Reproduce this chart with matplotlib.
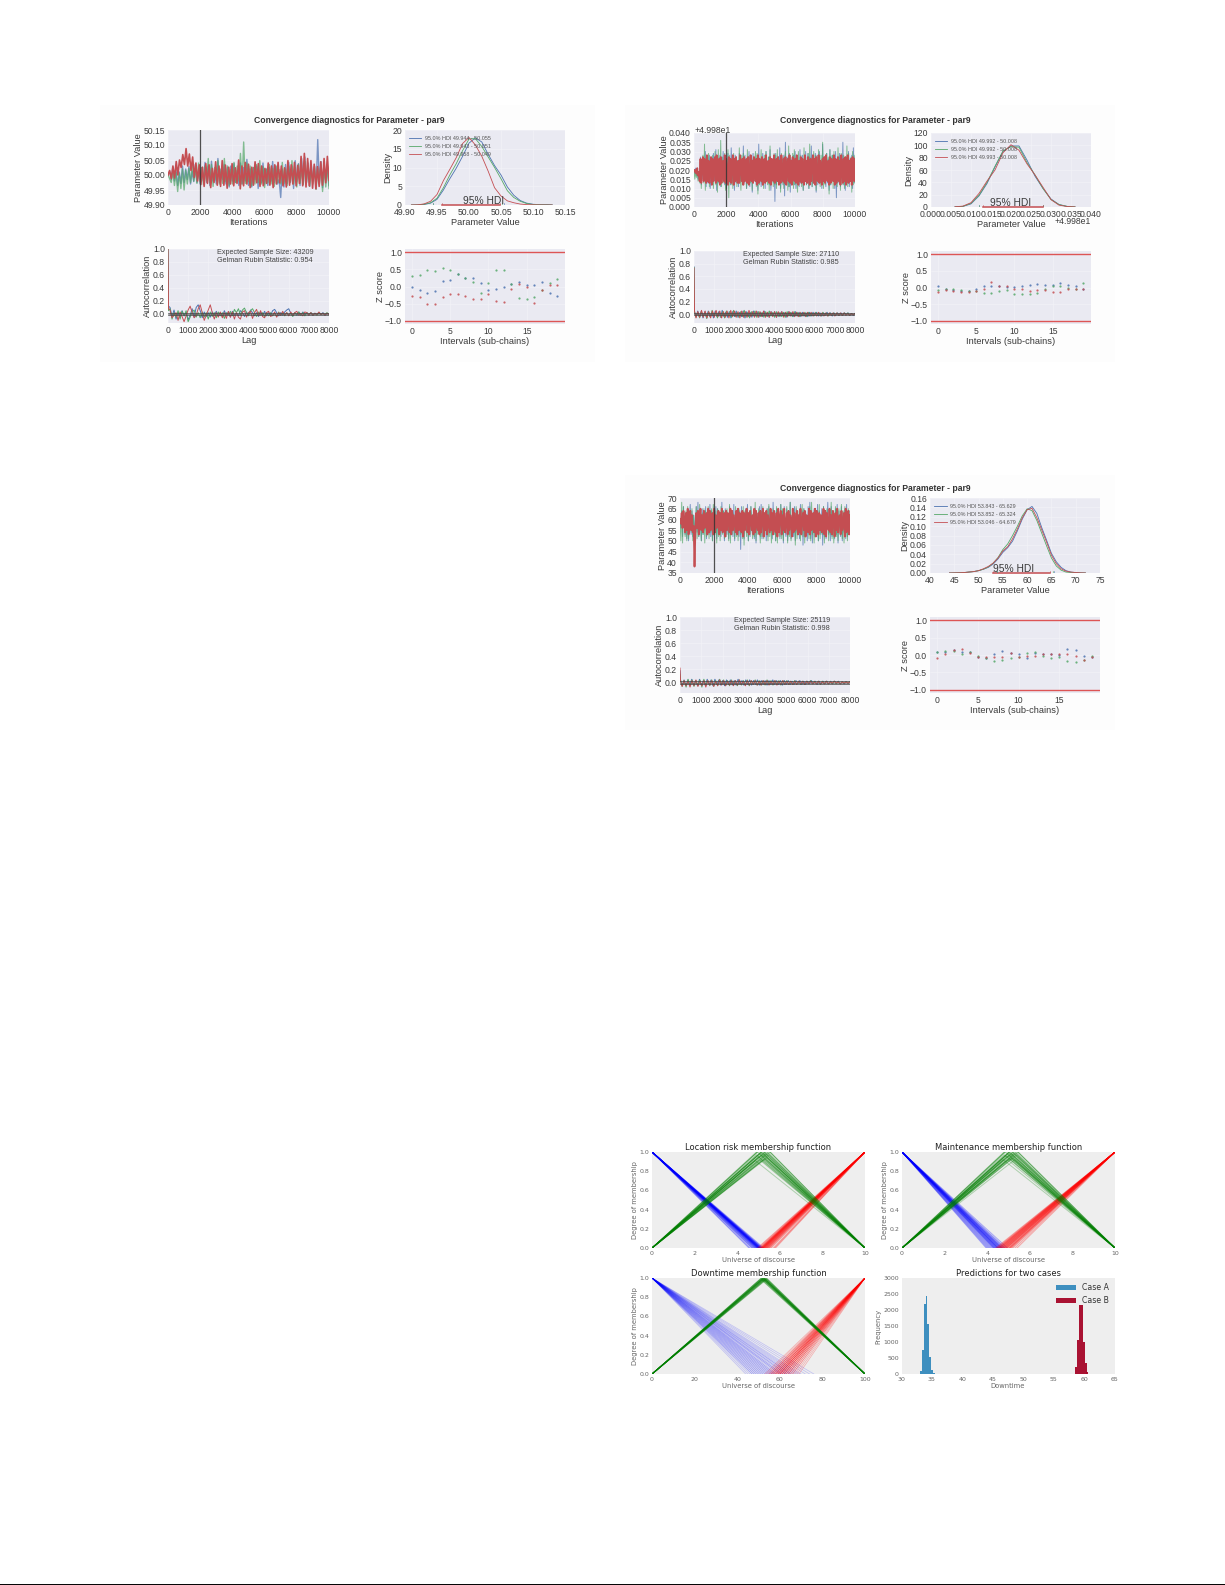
import numpy as np
import matplotlib
matplotlib.use("Agg")
import matplotlib.pyplot as plt
from matplotlib.lines import Line2D
from matplotlib.patches import Rectangle

W, H = 1225, 1585
plt.rcParams['font.family'] = ['Liberation Sans', 'DejaVu Sans']

BLUE, GREEN, RED = '#4C72B0', '#55A868', '#C44E52'
TITLE = "Convergence diagnostics for Parameter - par9"

# ---------- panel set 1 ----------
T1_B = [0,12,-15,25,-20,18,-35,10,-28,30,-25,20,-15,28,-30,12,-22,36,-25,15,-30,25,-20,42,-25,30,-35,46,-20,15,-30,55,-25,20,-15,35,-30,25,-40,30,-20,38,-25,15,-35,40,-30,25,-20,52,-35,20,-40,25,-15,30,-45,15,-25,40,-30,20,-35,25,-20,45,-25,30,-30,-15,-75,20,-40,35,-28,42,-25,30,-45,48,-22,38,-35,55,-30,60,-25,40,-38,35,-20,30,-45,118,-30,45,-42,25,-20,30,-35]
T1_G = [0,-12,-25,10,-35,8,-55,5,-45,20,-50,15,-30,22,-25,30,-20,18,-28,40,-22,25,-32,30,-20,55,-25,35,-38,25,-18,48,-30,20,-28,55,-22,30,-35,18,-30,42,-25,30,-20,72,-30,110,-28,40,-22,30,-36,25,-30,35,-25,48,-30,28,-42,20,-25,35,-30,22,-38,30,-25,18,-30,42,-28,20,-35,30,-22,48,-30,25,-40,35,-28,20,-32,45,-25,30,-38,20,-30,28,-48,22,-30,35,-55,20,-40,25,-45]
T1_R = [0,15,-12,30,-10,45,0,50,25,68,35,88,30,70,15,60,-8,40,-20,34,-32,26,-38,38,-28,34,-42,22,-25,44,-34,30,-38,48,-34,33,-44,26,-30,38,-36,24,-28,50,-46,30,-36,42,-30,36,-42,26,-34,44,-26,38,-38,30,-36,22,-28,40,-34,30,-42,34,-30,42,-26,30,-36,24,-40,48,-34,34,-30,42,-36,32,-28,62,-36,72,-40,55,-36,48,-44,36,-46,28,-38,44,-34,55,-26,62,-18]
ACF1_B = [1.0,.12,.10,-.04,.06,-.08,.02,-.06,.05,-.03,.02,-.09,-.02,.08,-.05,.10,.14,.05,-.06,.03,-.04,.02,-.05,.03,-.02,.04,-.03,.02,-.04,.05,-.02,.03,-.05,.04,-.02,.01,-.03,.05,.02,-.04,.03,-.02,.06,.02,-.03,.02,-.04,.03,-.02,.04,-.03,.02,-.02,.05,.07,.02,-.03,.02,-.02,.03,.06,.08,.01,-.03,.02,-.02,.03,-.02,.03,-.01,.02,-.02,.02,-.02,.01,-.01,.02,-.01,.02,-.02,.01,-.01]
ACF1_G = [1.0,.05,.08,-.08,.02,-.05,.05,-.08,.04,-.03,.05,-.12,-.05,.03,.06,-.05,.02,-.06,.03,-.05,.02,-.08,.03,-.04,.02,-.06,.03,-.03,.02,-.07,.02,-.02,.04,-.03,.07,.02,.08,-.02,.06,.09,.02,-.03,.05,.08,.02,-.04,.03,-.02,.02,-.04,.02,-.03,.02,-.03,.01,-.04,.03,-.02,.02,-.03,.02,-.02,.01,-.04,.02,-.01,.03,-.02,.02,-.03,.02,-.01,.02,-.02,.01,-.02,.02,-.01,.01,-.01,.02,-.01]
ACF1_R = [1.0,.08,.06,-.06,-.02,.02,-.10,.03,-.04,-.12,-.03,.06,.12,.02,-.06,-.02,.08,.14,.02,-.10,-.02,.06,.14,.02,-.08,.02,-.05,.03,-.06,.02,-.07,.04,-.05,.03,-.08,.02,-.05,-.08,.03,.05,-.05,.02,.04,-.07,.02,.07,-.03,.05,-.04,-.06,.02,.04,-.04,-.02,.03,-.05,.02,-.02,.04,-.02,.02,-.03,.03,-.02,.02,.04,-.02,.01,-.03,.03,.02,-.02,.02,-.02,.01,-.01,.03,-.01,.01,-.02,.01,-.01]
KDE1_X = [49.91,49.92,49.93,49.94,49.95,49.96,49.97,49.98,49.99,50.00,50.01,50.02,50.03,50.04,50.05,50.06,50.07,50.08,50.09,50.10,50.11,50.12,50.13]
KDE1_B = [0,.03,.15,.5,1.5,4,7,9.8,13,16.5,17.9,16.8,13.5,10.5,8,4.8,2.6,1.2,.5,.2,.1,.15,.03]
KDE1_G = [0,.04,.2,.6,1.8,4.6,8,11,14.5,17.6,17.7,15.6,12.8,10,7,3.8,2,1,.4,.15,.06,.05,0]
KDE1_R = [0,.05,.3,1,2.8,6.5,9.5,12.6,16.4,18,16,13,9,4.6,2.4,1.1,.6,.25,.1,.05,.02,0,0]
HDI1 = [(49.944,50.055),(49.943,50.051),(49.958,50.049)]
Z1_B = [0,-.1,-.2,-.12,.15,.2,.37,.25,.24,.1,-.1,-.08,-.02,.08,.12,.04,.05,.13,-.19,-.27]
Z1_G = [.3,.33,.47,.45,.53,.49,.37,.24,.13,-.19,.09,.47,.48,.08,-.32,-.35,-.31,-.1,.11,.22]
Z1_R = [-.28,-.3,-.51,-.51,-.3,-.22,-.23,-.27,-.35,-.36,-.22,-.41,-.44,-.08,.08,-.02,-.49,-.09,.03,.03]

# ---------- panel set 2 (relative to 49.98, thousandths for the traces) ----------
T2_B = [20,18,21,17,20,15,19,14,27,12,24,15,26,14,30,11,25,13,23,28,10,16,27,12,29,17,14,31,9,26,13,22,28,11,27,15,30,18,12,25,10,21,29,13,26,12,32,19,14,27,9,28,13,24,25,11,29,14,20,26,12,33,13,28,17,10,27,15,30,11,22,26,8,29,14,27,18,12,28,9,34,13,26,11,23,29,13,25,10,30,16,14,27,12,31,9,21,26,13,28,3,29,12,24,27,14,32,10,19,26,12,28,6,35,13,27,17,11,29,8,26,14,23,28,12,30,10,27,15,25,11,31,13,20,28,9,26,14,30,12,24,29,10,27,13,33,11,18,26,14,29,8,28,12,22,30,13,25,10,34,14,27,16,11,29,13,26,9,31,12,23,28,14,27,10,30,5,26,13,21,29,11,28,14,35,12,25,9,27,17,13,30,11,26,14,28,10,32,13,27]
T2_G = [20,15,19,16,21,14,18,13,26,10,22,28,13,34,9,27,17,14,29,11,24,26,13,28,10,20,30,12,27,8,31,16,14,36,11,27,13,23,29,9,26,15,31,5,28,19,12,26,10,29,14,25,27,11,25,13,32,18,9,28,12,29,14,22,26,10,31,12,27,16,13,28,9,26,14,24,30,11,29,7,27,12,21,31,13,26,10,28,14,30,17,12,27,9,33,13,26,23,11,29,12,28,10,31,14,19,26,8,29,13,27,10,25,30,12,26,9,33,11,28,15,13,29,10,31,12,27,14,8,30,22,13,28,11,26,9,32,14,27,12,18,29,10,34,13,26,11,24,30,12,28,9,27,14,31,16,11,28,13,35,10,26,12,21,29,14,27,7,31,12,25,28,10,30,13,26,19,11,32,14,27,9,29,12,23,28,10,26,13,33,11,29,17,14,27,8,30,12,28,13]
T2_R = [20,19,20,18,21,17,19,14,26,13,23,27,14,26,18,13,28,14,25,13,21,27,12,26,14,24,27,13,28,17,14,26,12,27,13,22,25,14,28,13,26,19,12,27,14,26,13,23,28,12,26,14,27,16,13,25,13,28,21,14,26,12,27,14,24,26,13,27,12,18,28,14,25,13,27,22,14,26,12,28,13,26,15,14,27,12,24,26,13,28,14,20,25,13,27,12,26,17,14,28,13,23,26,14,27,12,25,13,28,19,14,26,13,27,12,22,26,14,28,13,25,12,27,16,14,26,13,28,23,12,25,14,27,13,26,20,12,28,14,25,13,27,18,12,26,14,24,28,13,26,12,27,15,14,28,13,25,22,12,26,14,27,13,28,19,14,25,12,27,13,26,24,14,28,12,26,13,17,27,14,25,12,28,21,13,26,14,27,12,23,28,13,25,14,26,12,27,18,14,26]
ACF2_B = [.75,.03,-.04,.05,-.05,.04,-.06,.04,-.05,.05,-.04,.03,-.06,.05,-.04,.04,-.05,.06,-.04,.03,-.05,.04,-.06,.04,-.04,.05,-.05,.03,-.04,.05,-.06,.04,-.04,.03,-.05,.05,-.03,.04,-.05,.03,-.04,.05,-.04,.03,-.05,.04,-.03,.04,-.05,.03,-.04,.04,-.03,.03,-.05,.04,-.03,.03,-.04,.04,-.03,.03,-.04,.03,-.03,.02,-.04,.03,-.03,.03,-.02,.03,-.03,.02,-.03,.02,-.02,.03,-.02,.02,-.03,.02,-.02,.02,-.02,.02,-.02,.02,-.01,.02,-.02,.01,-.02,.01]
ACF2_G = [.74,.04,-.05,.03,-.06,.05,-.04,.03,-.07,.04,-.05,.06,-.03,.04,-.06,.03,-.05,.04,-.06,.05,-.03,.04,-.05,.06,-.04,.03,-.05,.04,-.04,.06,-.05,.03,-.06,.04,-.03,.05,-.05,.04,-.04,.03,-.05,.04,-.04,.05,-.03,.03,-.05,.04,-.04,.03,-.04,.03,-.05,.04,-.03,.03,-.04,.04,-.03,.03,-.04,.02,-.03,.03,-.04,.03,-.03,.02,-.03,.03,-.02,.02,-.03,.03,-.02,.02,-.03,.02,-.02,.02,-.02,.02,-.02,.01,-.02,.02,-.01,.02,-.02,.01,-.01,.01]
ACF2_R = [.73,.05,-.06,.04,-.05,.06,-.05,.05,-.06,.04,-.06,.05,-.05,.06,-.04,.05,-.06,.04,-.05,.05,-.06,.06,-.04,.05,-.05,.04,-.06,.05,-.05,.04,-.05,.06,-.04,.04,-.05,.05,-.05,.04,-.04,.05,-.05,.03,-.05,.04,-.04,.04,-.05,.04,-.03,.04,-.05,.03,-.04,.04,-.03,.04,-.04,.03,-.04,.03,-.03,.03,-.04,.03,-.03,.03,-.03,.02,-.03,.03,-.03,.02,-.03,.02,-.03,.02,-.02,.02,-.03,.02,-.02,.02,-.02,.02,-.02,.01,-.02,.01,-.01,.01]
KDE2_X = [.006,.008,.010,.012,.014,.016,.018,.020,.022,.024,.026,.028,.030,.032,.034,.036]
KDE2_B = [.2,1,5,18,38,65,90,99,99,76,50,30,13,4,1,.2]
KDE2_G = [.2,1,6,19,40,66,91,98,97,72,52,30,12,4,1,.2]
KDE2_R = [.3,1.5,7,22,42,60,88,101,92,70,52,32,12,3,.8,.1]
HDI2 = [(.012,.028),(.012,.028),(.013,.028)]
HDI2_LABELS = ["49.992 - 50.008","49.992 - 50.008","49.993 - 50.008"]
Z2_B = [.03,-.05,-.07,-.1,-.1,-.03,.04,.05,.03,.02,.01,.03,.07,.09,.07,.07,.12,.08,.03,-.03]
Z2_G = [-.08,-.03,-.05,-.07,-.1,-.1,-.15,-.15,-.1,-.07,-.2,-.18,-.19,-.15,-.03,.03,.04,0,-.03,.14]
Z2_R = [-.13,-.07,-.1,-.13,-.12,-.1,-.03,.17,.04,.03,-.05,-.05,-.1,-.08,-.06,-.13,-.13,-.03,-.05,-.04]

# ---------- panel set 3 ----------
T3_B = [60,56,64,52,66,58,53,63,51,65,50,61,67,53,64,52,62,57,51,66,54,68,52,63,59,50,65,53,64,55,66,51,60,63,53,67,52,64,50,62,56,54,66,51,65,53,63,58,52,68,54,64,50,65,61,53,62,51,66,53,57,64,52,67,50,63,54,65,59,52,64,46,66,53,62,51,60,65,54,67,50,63,52,66,56,53,64,51,65,49,63,58,54,66,52,67,51,64,53,61,62,50,65,52,66,54,63,57,51,68,53,64,50,65,52,60,63,51,67,53,64,49,66,55,52,65,50,63,53,68,51,59,64,52,66,50,65,54,62,56,51,67,53,64,48,65,52,63,58,50,66,53,68,51,64,49,61,65,52,63,54,67,50,64,57,53,65,48,66,52,63,51,60,68,53,64,50,66,52,62,55,51,65,53,67,49,64,58,52,66,50,63,54,65,51,67,52,62,53,64]
T3_G = [60,50,68,49,66,57,52,64,50,66,51,60,64,54,65,50,62,56,53,66,51,64,52,67,59,50,63,53,65,49,64,52,61,66,51,62,54,65,50,67,58,53,64,49,65,52,63,50,66,55,53,64,51,62,52,65,60,50,67,49,64,53,63,57,51,66,52,64,50,65,61,53,62,51,66,48,64,56,52,65,50,63,53,66,59,51,64,52,68,50,63,53,65,58,49,64,52,66,51,63,60,53,65,50,67,52,64,49,56,65,53,62,50,66,49,64,61,52,67,51,65,50,63,54,57,66,49,64,52,68,50,62,53,65,59,48,66,51,64,53,63,50,60,67,52,65,49,64,54,62,57,51,66,50,68,53,63,49,65,58,52,64,50,67,51,62,55,53,66,49,64,52,65,60,50,63,53,68,51,64,49,57,66,52,63,50,65,54,61,67,51,64,49,66,52,63,50,65,53,64]
T3_R = [60,58,63,56,64,60,54,63,55,65,53,59,64,55,62,54,57,38,54,63,56,64,53,60,65,55,62,54,64,56,58,63,53,65,54,64,55,61,63,53,65,54,62,56,59,64,53,63,55,65,54,57,63,52,64,55,63,60,54,65,53,64,55,62,58,54,64,53,65,55,63,56,54,64,52,63,55,61,65,54,63,53,64,59,55,62,53,65,54,64,57,55,63,53,64,54,60,65,52,63,55,64,53,62,58,54,65,55,63,53,64,56,54,63,52,65,54,61,64,53,62,55,65,54,58,63,53,64,55,62,60,52,65,54,63,55,57,64,53,62,54,65,53,59,63,55,64,52,62,61,54,65,53,64,55,56,63,54,65,52,64,58,53,63,55,62,54,60,65,53,64,52,63,57,55,65,54,62,53,64,59,52,63,55,65,54,61,62,53,64,55,58,63,52,65,54,60,64,53,62]
ACF3_B = [.18,.03,-.04,.04,-.05,.04,-.03,.05,-.04,.03,-.05,.05,-.04,.03,-.04,.05,-.03,.04,-.05,.05,-.03,.04,-.04,.03,-.05,.04,-.03,.04,-.04,.03,-.04,.05,-.03,.03,-.04,.04,-.03,.04,-.04,.03,-.03,.04,-.04,.03,-.03,.03,-.04,.03,-.03,.04,-.03,.03,-.03,.03,-.04,.03,-.03,.03,-.03,.02,-.03,.03,-.02,.03,-.03,.02,-.03,.02,-.02,.03,-.02,.02,-.03,.02,-.02,.02,-.02,.02,-.02,.02,-.02,.02,-.01,.02,-.02,.01,-.02,.01,-.01,.01]
ACF3_G = [.12,.04,-.06,.03,-.07,.05,-.05,.04,-.06,.03,-.05,.04,-.07,.05,-.04,.03,-.05,.04,-.06,.03,-.05,.05,-.03,.04,-.05,.03,-.05,.04,-.03,.03,-.05,.04,-.04,.03,-.04,.04,-.05,.03,-.03,.04,-.04,.03,-.04,.03,-.04,.04,-.03,.03,-.04,.03,-.03,.03,-.04,.03,-.03,.03,-.03,.02,-.03,.03,-.03,.02,-.03,.02,-.03,.02,-.02,.03,-.02,.02,-.02,.02,-.03,.02,-.02,.02,-.02,.01,-.02,.02,-.02,.01,-.02,.01,-.01,.01,-.01,.01]
ACF3_R = [.22,.02,-.06,.03,-.05,.02,-.07,.03,-.05,.04,-.06,.02,-.05,.03,-.07,.03,-.04,.03,-.06,.02,-.05,.04,-.04,.03,-.05,.02,-.04,.03,-.05,.03,-.04,.04,-.03,.02,-.05,.03,-.04,.03,-.03,.03,-.04,.02,-.04,.03,-.03,.03,-.04,.02,-.03,.03,-.04,.02,-.03,.03,-.03,.02,-.03,.02,-.03,.02,-.03,.02,-.02,.02,-.03,.02,-.02,.02,-.02,.01,-.02,.02,-.02,.01,-.02,.02,-.02,.01,-.01,.02,-.01,.01,-.02,.01,-.01,.01,-.01,.01]
KDE3_X = [44,45,46,47,48,49,50,51,52,53,54,55,56,57,58,59,60,61,62,63,64,65,66,67,68,69,70,71,72]
KDE3_B = [0,.0002,.0005,.001,.002,.003,.005,.008,.012,.019,.03,.044,.054,.068,.09,.115,.135,.142,.127,.097,.07,.042,.024,.012,.005,.002,.001,.0003,0]
KDE3_G = [0,.0002,.0005,.001,.002,.003,.005,.008,.013,.021,.033,.05,.062,.08,.1,.122,.137,.133,.112,.085,.058,.032,.015,.006,.002,.001,.0003,0,0]
KDE3_R = [0,.0002,.0004,.001,.002,.003,.005,.009,.014,.021,.032,.047,.056,.073,.094,.118,.135,.138,.118,.092,.066,.038,.02,.009,.004,.002,.001,.0003,0]
HDI3 = [(53.843,65.629),(53.852,65.324),(53.046,64.679)]
Z3_B = [.1,.1,.15,.1,.08,-.05,-.1,.03,.12,.05,.02,-.1,.05,.02,.03,0,.18,.14,-.03,-.05]
Z3_G = [.1,.12,.12,.03,.1,-.03,-.08,-.17,-.13,-.1,-.07,.07,.08,-.02,-.1,-.05,-.17,-.2,-.13,-.03]
Z3_R = [-.1,.02,.14,.16,.06,-.07,-.05,-.05,-.07,.05,-.07,-.03,-.03,.03,.02,.02,.02,-.02,-.15,-.07]

# ---------- fuzzy membership panels ----------
A_BLUE_END = [4.55,4.6,4.68,4.72,4.75,4.8,4.82,4.85,4.88,4.9,4.92,4.94,4.95,4.97,4.98,5.0,5.0,5.01,5.02,5.03,5.04,5.05,5.06,5.07,5.08,5.1,5.1,5.12,5.14,5.15,5.17,5.2,5.25]
A_RED_START = [4.95,5.0,5.05,5.08,5.1,5.12,5.14,5.15,5.17,5.18,5.2,5.2,5.22,5.24,5.25,5.27,5.28,5.3,5.32,5.34,5.36,5.38,5.4,5.42,5.45,5.48,5.5,5.55,5.6,5.7,5.75,5.8]
A_GREEN_PEAK = [4.85,4.9,4.95,5.0,5.0,5.05,5.05,5.1,5.1,5.1,5.15,5.15,5.15,5.2,5.2,5.2,5.2,5.25,5.25,5.25,5.3,5.3,5.3,5.35,5.35,5.4,5.4,5.45,5.5,5.55]
A_GREEN_TOP = [.91,.97,1.0,.95,1.02,.98,.92,.99,1.03,.96,.91,1.0,.97,1.05,.93,.99,1.01,.92,.98,1.03,.96,1.0,.93,.98,1.04,.94,.99,1.02,.97,1.0]
B_BLUE_END = [3.95,4.0,4.05,4.1,4.15,4.2,4.25,4.3,4.3,4.35,4.35,4.4,4.4,4.45,4.45,4.5,4.5,4.5,4.55,4.55,4.6,4.6,4.65,4.65,4.7,4.7,4.75,4.8,4.85,4.95]
B_RED_START = [4.4,4.45,4.5,4.52,4.55,4.58,4.6,4.62,4.65,4.68,4.7,4.72,4.75,4.78,4.8,4.82,4.85,4.88,4.9,4.92,4.95,5.0,5.02,5.05,5.08,5.1,5.15,5.2,5.3,5.4]
B_GREEN_PEAK = [4.75,4.8,4.85,4.9,4.9,4.95,4.95,5.0,5.0,5.0,5.05,5.05,5.05,5.1,5.1,5.1,5.1,5.15,5.15,5.15,5.2,5.2,5.2,5.25,5.25,5.3,5.3,5.35,5.4,5.45]
B_GREEN_TOP = [.92,.97,1.0,.96,1.02,.98,.92,.99,1.04,.96,.93,1.0,.97,1.05,.94,.99,1.01,.93,.98,1.03,.96,1.0,.94,.98,1.04,.92,.99,1.02,.97,1.0]
C_BLUE_END = [44,45,46,47,47,48,48,49,49,50,50,51,51,52,52,53,53,54,54,55,55,56,56,57,57,58,58,59,60,60,61,61,62,63,63,64,65,65,66,67,68,69,70,72,74,76]
C_RED_START = [53,54,55,55,56,56,56,57,57,57,58,58,58,58,59,59,59,59,60,60,60,60,60,61,61,61,61,62,62,62,62,63,63,63,64,64,64,65,65,66,66,67,68,69]
C_GREEN_PEAK = [51,51.3,51.5,51.7,51.8,52,52,52.1,52.2,52.3,52.4,52.5,52.5,52.6,52.7,52.8,53,53,53.2,53.4,53.6,53.8,54]
C_GREEN_TOP = [.99,1.0,.98,1.0,.99,1.01,.98,1.0,.99,1.0,1.01,.98,1.0,.99,1.0,.98,1.01,.99,1.0,.98,.99,1.0,.99]
HIST_A_X = [33.2,33.5,33.8,34.1,34.4,34.7,35.0,35.3]
HIST_A_Y = [100,750,2200,2450,1550,520,120,30]
HIST_B_X = [58.65,58.95,59.28,59.63,59.95,60.25,60.55]
HIST_B_Y = [230,1050,2150,2150,1000,350,60]

fig = plt.figure(figsize=(W/100, H/100), dpi=100, facecolor='white')
def axpx(x0, y0, x1, y1, bg):
    ax = fig.add_axes([x0/W, 1-y1/H, (x1-x0)/W, (y1-y0)/H], facecolor=bg)
    for s in ax.spines.values():
        s.set_visible(False)
    return ax
def tpx(x, y, s, **kw):
    fig.text(x/W, 1-y/H, s, ha=kw.pop('ha','center'), va=kw.pop('va','center'), **kw)

TK, LB = 6.2, 6.7
TXT = '#3A3A3A'
def dark(ax, xl, yl):
    ax.grid(True, color='#F3F3F8', lw=.4)
    ax.set_axisbelow(True)
    ax.tick_params(length=0, labelsize=TK, labelcolor=TXT, pad=2.2)
    ax.set_xlabel(xl, fontsize=LB, color=TXT, labelpad=.6)
    ax.set_ylabel(yl, fontsize=LB, color=TXT, labelpad=.3)

def diag(boxes, bg, title, trace, base, tr_lim, tr_ticks, acf, acf_lim, kde_x, kde, kde_xlim, kde_xt, kde_yt,
         hdi, hdi_labels, hdi_text, ess, grs, z, ess_pos, scale, tr_lw, red_lw):
    fig.add_artist(Rectangle((bg[0]/W, 1-bg[3]/H), (bg[2]-bg[0])/W, (bg[3]-bg[1])/H, transform=fig.transFigure,
                             fc='#FDFDFD', ec='none', zorder=-5))
    tpx(title[0], title[1], TITLE, fontsize=6.2, fontweight='bold', color='#333333')
    cols = [BLUE, GREEN, RED]
    ax = axpx(*boxes[0], '#EAEAF2')
    dark(ax, 'Iterations', 'Parameter Value')
    for y, c, lw, al in zip(trace, cols, [tr_lw, tr_lw, red_lw], [.7, .7, 1]):
        ax.plot(np.linspace(0, 10000, len(y)), base + np.asarray(y)*scale, color=c, lw=lw, alpha=al)
    ax.axvline(2000, color='#333333', lw=.9, alpha=.85)
    ax.set_xlim(0, 10000); ax.set_ylim(*tr_lim)
    ax.set_xticks(range(0, 10001, 2000)); ax.set_yticks(tr_ticks[0]); ax.set_yticklabels(tr_ticks[1])
    ax = axpx(*boxes[1], '#EAEAF2')
    dark(ax, 'Parameter Value', 'Density')
    for y, c, l in zip(kde, cols, hdi_labels):
        ax.plot(kde_x, y, color=c, lw=.6, label=l)
    h = hdi[2]
    ax.plot(h, [0, 0], color=RED, lw=1.1, clip_on=False)
    top = kde_yt[0][-1]
    for hh, c in zip(hdi, cols):
        for e in hh:
            ax.plot([e, e], [0, top*.03], color=c, lw=.4)
    ax.set_xlim(*kde_xlim); ax.set_ylim(kde_yt[0][0], top)
    ax.set_xticks(kde_xt[0]); ax.set_xticklabels(kde_xt[1]); ax.set_yticks(kde_yt[0]); ax.set_yticklabels(kde_yt[1])
    ax.legend(loc='upper left', frameon=False, fontsize=3.9, labelcolor='#555555', handlelength=2.3,
              borderaxespad=0, borderpad=0, bbox_to_anchor=(.025, .925), labelspacing=.6, handletextpad=.7)
    ax.text(hdi_text, top*.055, '95% HDI', fontsize=7.4, color=TXT, ha='center', va='center')
    ax = axpx(*boxes[2], '#EAEAF2')
    dark(ax, 'Lag', 'Autocorrelation')
    for y, c in zip(acf, cols):
        lag = np.r_[0, 25, np.linspace(100, 8000, len(y)-2)]
        ax.plot(lag, y, color=c, lw=.7)
    ax.axhline(.02, color='#444444', lw=.5); ax.axhline(-.02, color='#444444', lw=.5); ax.axhline(0, color='#555555', lw=.4)
    ax.set_xlim(0, 8000); ax.set_ylim(*acf_lim)
    ax.set_xticks(range(0, 8001, 1000)); ax.set_yticks([0, .2, .4, .6, .8, 1])
    tpx(ess_pos[0], ess_pos[1], 'Expected Sample Size: %d' % ess, fontsize=5.2, color='#444444')
    tpx(ess_pos[0], ess_pos[1]+8, 'Gelman Rubin Statistic: %s' % grs, fontsize=5.2, color='#444444')
    ax = axpx(*boxes[3], '#EAEAF2')
    dark(ax, 'Intervals (sub-chains)', 'Z score')
    for y, c in zip(z, cols):
        ax.plot(range(len(y)), y, ls='none', marker='o', ms=1.6, mew=0, color=c, alpha=.85)
    ax.axhline(1, color='#DD5555', lw=1); ax.axhline(-1, color='#DD5555', lw=1)
    ax.set_xlim(-.9, 20); ax.set_ylim(-1.09, 1.09)
    ax.set_xticks([0, 5, 10, 15]); ax.set_yticks([-1, -.5, 0, .5, 1])
    ax.set_yticklabels(['\u22121.0', '\u22120.5', '0.0', '0.5', '1.0'])

T1_TICKS = ([49.9,49.95,50,50.05,50.1,50.15],['49.90','49.95','50.00','50.05','50.10','50.15'])
T2_TICKS = ([0,.005,.01,.015,.02,.025,.03,.035,.04],['0.000','0.005','0.010','0.015','0.020','0.025','0.030','0.035','0.040'])
diag([(168,130,329,205),(405,130,565,205),(168,249,329,323),(405,249,565,324)], (100,105,595,362), (349,120.7),
     [T1_B, T1_G, T1_R], 50, (49.9, 50.15), T1_TICKS,
     [ACF1_B, ACF1_G, ACF1_R], (-.14, 1.0), KDE1_X, [KDE1_B, KDE1_G, KDE1_R], (49.9, 50.15),
     T1_TICKS, ([0,5,10,15,20],['0','5','10','15','20']),
     HDI1, ['95.0%% HDI %.3f - %.3f' % h for h in HDI1], 50.023, 43209, '0.954', [Z1_B, Z1_G, Z1_R], (265, 252), .001, 1.0, 1.2)

diag([(694,133,855,207),(931,133,1091,207),(694,251,855,323),(931,251,1091,324)], (625,105,1115,362), (875,120.7),
     [T2_B, T2_G, T2_R], 0, (0, .04), T2_TICKS,
     [ACF2_B, ACF2_G, ACF2_R], (-.14, 1.0), KDE2_X, [KDE2_B, KDE2_G, KDE2_R], (0, .04),
     T2_TICKS, ([0,20,40,60,80,100,120],['0','20','40','60','80','100','120']),
     HDI2, ['95.0%% HDI %s' % l for l in HDI2_LABELS], .0198, 27110, '0.985', [Z2_B, Z2_G, Z2_R], (791, 254), .001, .7, 1.3)
tpx(694.5, 130.5, '+4.998e1', fontsize=TK, color=TXT, ha='left')
tpx(1091, 222, '+4.998e1', fontsize=TK, color=TXT, ha='right')

diag([(680,498,850,573),(930,498,1100,573),(680,617,850,693),(930,617,1100,693)], (625,475,1115,730), (875,488.7),
     [T3_B, T3_G, T3_R], 0, (35, 70), (list(range(35,71,5)),[str(v) for v in range(35,71,5)]),
     [ACF3_B, ACF3_G, ACF3_R], (-.16, 1.0), KDE3_X, [KDE3_B, KDE3_G, KDE3_R], (40, 75),
     (list(range(40,76,5)),[str(v) for v in range(40,76,5)]), ([0,.02,.04,.06,.08,.1,.12,.14,.16],['0.00','0.02','0.04','0.06','0.08','0.10','0.12','0.14','0.16']),
     HDI3, ['95.0%% HDI %.3f - %.3f' % h for h in HDI3], 57.3, 25119, '0.998', [Z3_B, Z3_G, Z3_R], (782, 620), 1, .7, 1.3)

# fuzzy
DJ = ['DejaVu Sans']
def light(ax, title, xl, yl):
    ax.tick_params(length=0, labelsize=4.5, labelcolor='#666666', pad=2)
    ax.set_title(title, fontsize=6.0, color='#222222', pad=1.5, family=DJ)
    ax.set_xlabel(xl, fontsize=4.9, color='#666666', labelpad=1, family=DJ)
    ax.set_ylabel(yl, fontsize=4.9, color='#666666', labelpad=1, family=DJ)
    for t in ax.get_xticklabels() + ax.get_yticklabels():
        t.set_family(DJ)

def fuzzy(box, title, blue_end, red_start, gpk, gtop, xmax, lw, ba, ra):
    ax = axpx(*box, '#EEEEEE')
    for b in blue_end:
        ax.plot([0, b], [1, 0], color='#0000FF', lw=lw, alpha=ba)
    for r in red_start:
        ax.plot([r, xmax], [0, 1], color='#FF0000', lw=lw, alpha=ra)
    for p, t in zip(gpk, gtop):
        ax.plot([0, p, xmax], [0, t, 0], color='#007F00', lw=.7, alpha=.28)
    ax.plot([0, min(red_start)], [0, 0], color='#FF0000', lw=.5, alpha=.4)
    ax.plot([xmax, xmax], [0, 1], color='#FF0000', lw=.5, alpha=.4)
    ax.plot([min(blue_end), xmax], [0, 0], color='#0000FF', lw=.5, alpha=.4)
    ax.set_xlim(0, xmax); ax.set_ylim(0, 1)
    ax.set_xticks(np.arange(0, xmax+.01, xmax/5)); ax.set_yticks([0, .2, .4, .6, .8, 1])
    ax.set_xticklabels([str(int(v)) for v in np.arange(0, xmax+.01, xmax/5)])
    ax.set_yticklabels(['0.0','0.2','0.4','0.6','0.8','1.0'])
    light(ax, title, 'Universe of discourse', 'Degree of membership')

fuzzy((652,1152,865,1248), 'Location risk membership function', A_BLUE_END, A_RED_START, A_GREEN_PEAK, A_GREEN_TOP, 10, .7, .3, .3)
fuzzy((902,1152,1115,1248), 'Maintenance membership function', B_BLUE_END, B_RED_START, B_GREEN_PEAK, B_GREEN_TOP, 10, .7, .3, .3)
fuzzy((652,1278,865,1374), 'Downtime membership function', C_BLUE_END, C_RED_START, C_GREEN_PEAK, C_GREEN_TOP, 100, .5, .2, .28)

ax = axpx(901.5,1278,1114.5,1374, '#EEEEEE')
ax.bar(HIST_A_X, HIST_A_Y, width=.3, color='#348ABD', alpha=.95, label='Case A')
ax.bar(HIST_B_X, HIST_B_Y, width=.33, color='#A60628', alpha=.95, label='Case B')
ax.set_xlim(30, 65); ax.set_ylim(0, 3000)
ax.set_xticks(range(30, 66, 5)); ax.set_yticks(range(0, 3001, 500))
light(ax, 'Predictions for two cases', 'Downtime', 'Frequency')
ax.legend(loc='upper right', frameon=False, prop={'family': DJ, 'size': 5.6}, labelcolor='#333333', handlelength=2.5,
          labelspacing=.55, bbox_to_anchor=(.995, .995), borderaxespad=.2)

fig.add_artist(Line2D([0, 1], [.5/H, .5/H], color='black', lw=1.4, transform=fig.transFigure))
fig.savefig('out.png', dpi=100, facecolor='white')
